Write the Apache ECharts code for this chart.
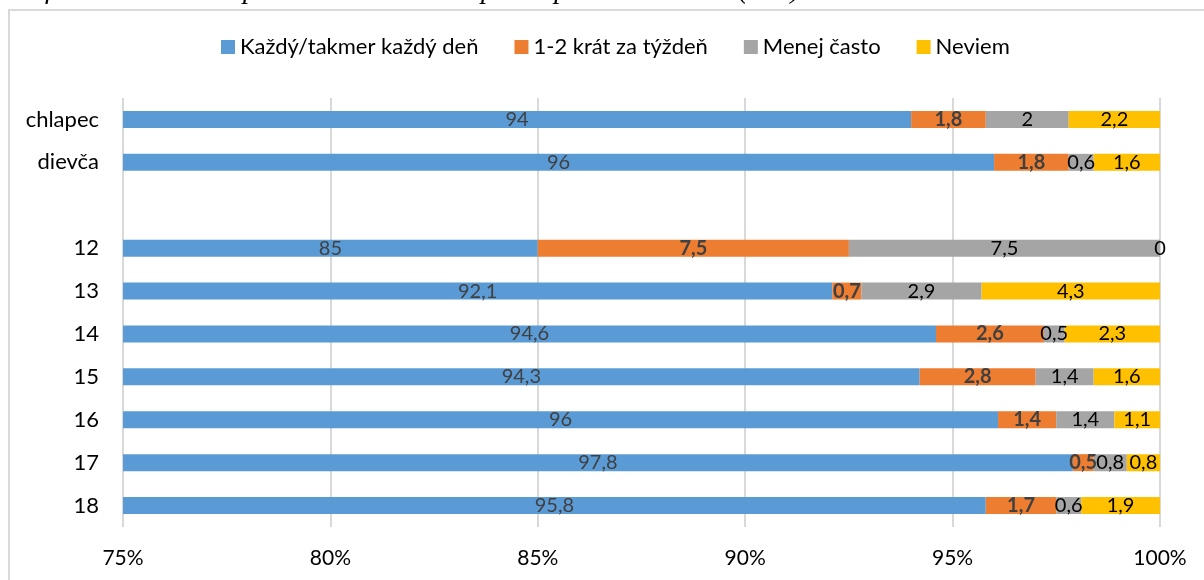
<!DOCTYPE html>
<html>
<head>
<meta charset="utf-8">
<script src="https://cdn.jsdelivr.net/npm/echarts@6/dist/echarts.min.js"></script>
<style>
  html, body { margin: 0; padding: 0; background: #fff; }
  #chart { width: 1204px; height: 580px; }
</style>
</head>
<body>
<div id="chart"></div>
<script>
// kategórie (zhora nadol)
var categories = ['chlapec', 'dievča', '', '12', '13', '14', '15', '16', '17', '18'];

// hodnoty v %
var dailyValues   = [94, 96, null, 85, 92.1, 94.6, 94.3, 96, 97.8, 95.8];
var weeklyValues  = [1.8, 1.8, null, 7.5, 0.7, 2.6, 2.8, 1.4, 0.5, 1.7];
var lessValues    = [2, 0.6, null, 7.5, 2.9, 0.5, 1.4, 1.4, 0.8, 0.6];
var unknownValues = [2.2, 1.6, null, 0, 4.3, 2.3, 1.6, 1.1, 0.8, 1.9];

var seriesNames = ['Každý/takmer každý deň', '1-2 krát za týždeň', 'Menej často', 'Neviem'];
var xTicks = [75, 80, 85, 90, 95, 100];

var font = 'Lato';
var allValues = [dailyValues, weeklyValues, lessValues, unknownValues];
var colors = ['#5B9BD5', '#ED7D31', '#A5A5A5', '#FFC000'];

// 100% skladaný graf - prepočet na podiel zo súčtu riadku
function toShare(arr) {
    return arr.map(function (v, i) {
        if (v == null) return null;
        var total = 0;
        allValues.forEach(function (a) { total += a[i]; });
        return v / total * 100;
    });
}

function labelStyle(idx) {
    return {
        show: true,
        position: 'inside',
        fontFamily: font,
        fontSize: 20,
        fontWeight: idx === 1 ? 'bold' : 'normal',
        color: idx <= 1 ? '#404040' : '#000',
        formatter: function (p) {
            var raw = allValues[idx][p.dataIndex];
            return raw == null ? '' : String(raw).replace('.', ',');
        }
    };
}

var seriesData = allValues.map(function (arr, idx) {
    return {
        name: seriesNames[idx],
        type: 'bar',
        stack: 'total',
        barWidth: 17,
        itemStyle: { color: colors[idx] },
        label: labelStyle(idx),
        data: toShare(arr)
    };
});

var myChart = echarts.init(document.getElementById('chart'));

myChart.setOption({
    animation: false,
    legend: {
        left: 216,
        top: 31,
        itemWidth: 14,
        itemHeight: 14,
        itemGap: 36,
        icon: 'rect',
        textStyle: { fontFamily: font, fontSize: 22, color: '#000' },
        data: seriesNames
    },
    grid: {
        left: 123,
        right: 44,
        top: 98,
        bottom: 53,
        containLabel: false
    },
    xAxis: {
        type: 'value',
        min: xTicks[0],
        max: xTicks[xTicks.length - 1],
        interval: 5,
        axisLine: { show: false },
        axisTick: { show: false },
        axisLabel: {
            margin: 21,
            fontFamily: font,
            fontSize: 21,
            color: '#000',
            formatter: '{value}%'
        },
        splitLine: { show: true, lineStyle: { color: '#d9d9d9', width: 2 } }
    },
    yAxis: {
        type: 'category',
        inverse: true,
        data: categories,
        axisLine: { show: false },
        axisTick: { show: false },
        axisLabel: {
            margin: 24,
            fontFamily: font,
            fontSize: 22,
            color: '#000'
        }
    },
    graphic: [
        {
            type: 'rect',
            shape: { x: 9, y: 10, width: 1400, height: 800 },
            style: { fill: 'none', stroke: '#d9d9d9', lineWidth: 2 },
            silent: true
        },
        {
            type: 'text',
            left: 0,
            top: -23,
            style: {
                text: 'Graf 28 : Frekvencia používania internetu podľa pohlavia a veku (v %)',
                font: 'italic 28px "Liberation Serif"',
                fill: '#000'
            }
        }
    ],
    series: seriesData
});
</script>
</body>
</html>
